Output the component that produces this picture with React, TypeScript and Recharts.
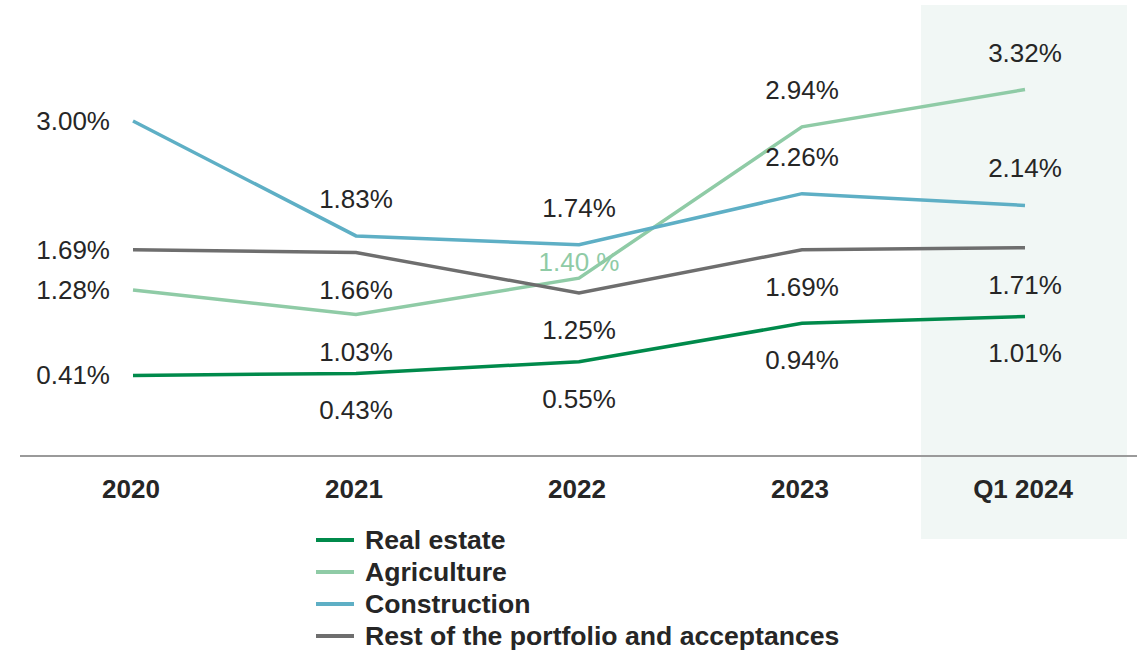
import React from 'react';
import { LineChart, Line, XAxis, YAxis, ReferenceArea, LabelList } from 'recharts';

const categories = ['2020', '2021', '2022', '2023', 'Q1 2024'];
const realEstate = [0.41, 0.43, 0.55, 0.94, 1.01];
const agriculture = [1.28, 1.03, 1.4, 2.94, 3.32];
const construction = [3.0, 1.83, 1.74, 2.26, 2.14];
const restOfPortfolio = [1.69, 1.66, 1.25, 1.69, 1.71];
const agricultureLabels = ['1.28%', '1.03%', '1.40 %', '2.94%', '3.32%'];
const seriesNames = ['Real estate', 'Agriculture', 'Construction', 'Rest of the portfolio and acceptances'];
const highlightCategory = 'Q1 2024';

const FONT = '"Liberation Sans", Arial, sans-serif';
const TEXT = '#262626';
const COLORS = ['#008A4B', '#8FCBA6', '#5EAFC5', '#6E6E6E'];

const data = categories.map((c, i) => ({
  cat: c,
  re: realEstate[i],
  ag: agriculture[i],
  co: construction[i],
  rp: restOfPortfolio[i],
  agLabel: agricultureLabels[i],
}));

type Place = 'left' | 'above' | 'below' | 'aboveNear';
const placements: Record<string, Place[]> = {
  re: ['left', 'below', 'below', 'below', 'below'],
  ag: ['left', 'below', 'aboveNear', 'above', 'above'],
  co: ['left', 'above', 'above', 'above', 'above'],
  rp: ['left', 'below', 'below', 'below', 'below'],
};

const makeLabel = (key: string, labelColor: (i: number) => string, texts?: string[]) => (props: any) => {
  const { x, y, value, index } = props;
  const p = placements[key][index];
  const txt = texts ? texts[index] : `${Number(value).toFixed(2)}%`;
  let tx = x;
  let ty = y;
  let anchor: any = 'middle';
  if (p === 'left') {
    tx = x - 23;
    anchor = 'end';
  } else if (p === 'above') ty = y - 37;
  else if (p === 'below') ty = y + 37;
  else if (p === 'aboveNear') ty = y - 16;
  return (
    <text x={tx} y={ty} textAnchor={anchor} dominantBaseline="central" fontSize={26} fontFamily={FONT} fill={labelColor(index)}>
      {txt}
    </text>
  );
};

const Tick = (props: any) => {
  const { x, y, payload } = props;
  return (
    <text x={x - 2} y={y + 42} textAnchor="middle" fontSize={26} fontWeight="bold" fontFamily={FONT} fill={TEXT}>
      {payload.value}
    </text>
  );
};

const HighlightShape = (props: any) => {
  const { x, y, height } = props;
  return <rect x={x - 104} y={y} width={206} height={height} fill="#F1F7F5" />;
};

export default function App() {
  const keys = ['re', 'ag', 'co', 'rp'];
  return (
    <div style={{ position: 'absolute', left: 0, top: 0, width: 1143, height: 651, background: '#fff', fontFamily: FONT }}>
      <LineChart width={1143} height={651} data={data} margin={{ top: 5, right: 6, bottom: 135, left: 20 }}>
        <ReferenceArea
          x1={highlightCategory}
          x2={highlightCategory}
          y1={-1.255}
          y2={4.18}
          ifOverflow="visible"
          shape={<HighlightShape />}
        />
        <XAxis
          dataKey="cat"
          type="category"
          scale="point"
          padding={{ left: 113, right: 112 }}
          tickLine={false}
          tickSize={0}
          tickMargin={0}
          height={60}
          axisLine={{ stroke: '#9A9A9A', strokeWidth: 2 }}
          tick={<Tick />}
          interval={0}
        />
        <YAxis hide domain={[-0.41, 4.18]} type="number" />
        {keys.map((k, si) => (
          <Line
            key={k}
            dataKey={k}
            name={seriesNames[si]}
            stroke={COLORS[si]}
            strokeWidth={3.5}
            dot={false}
            activeDot={false}
            isAnimationActive={false}
          >
            <LabelList
              dataKey={k}
              content={makeLabel(
                k,
                (i) => (k === 'ag' && i === 2 ? COLORS[1] : TEXT),
                k === 'ag' ? agricultureLabels : undefined
              )}
            />
          </Line>
        ))}
      </LineChart>
      <div style={{ position: 'absolute', left: 316, top: 524 }}>
        {seriesNames.map((n, i) => (
          <div key={n} style={{ display: 'flex', alignItems: 'center', height: 32 }}>
            <div style={{ width: 38, height: 4, background: COLORS[i], marginRight: 11 }} />
            <span style={{ fontSize: 26.6, fontWeight: 'bold', color: TEXT, lineHeight: '32px', whiteSpace: 'nowrap' }}>{n}</span>
          </div>
        ))}
      </div>
    </div>
  );
}
